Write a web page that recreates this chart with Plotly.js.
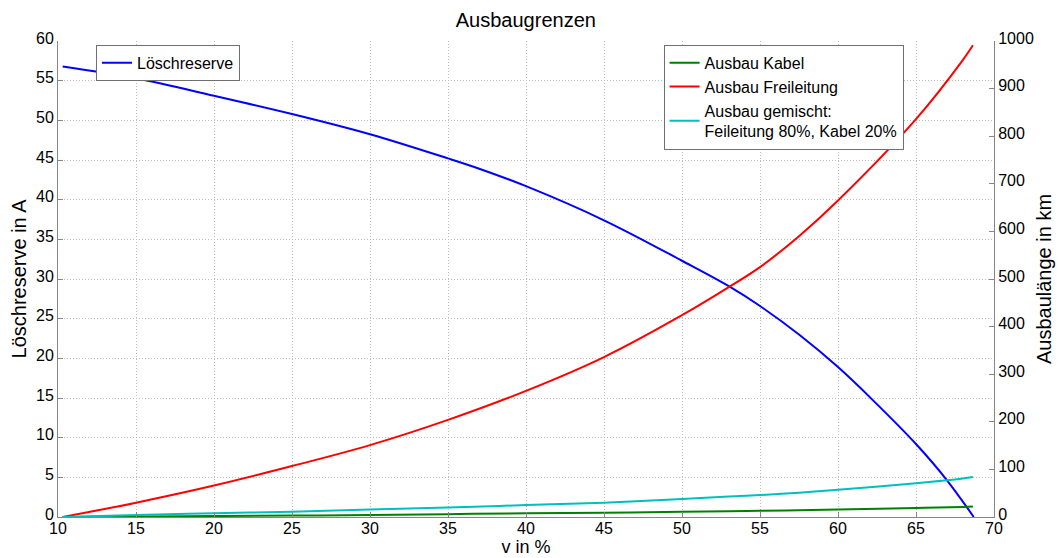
<!DOCTYPE html>
<html>
<head>
<meta charset="utf-8">
<script src="https://cdn.plot.ly/plotly-3.0.1.min.js"></script>
<style>html,body{margin:0;padding:0;background:#fff;}#chart{width:1058px;height:558px;}</style>
</head>
<body>
<div id="chart"></div>
<script>
// Löschreserve (left axis, A)
const xLoesch = [10.3, 15, 20, 25, 30, 35, 37, 40, 45, 50, 53, 55, 57.5, 60, 62.2, 65, 67, 68.7];
const loeschreserve = [56.8, 55.3, 53.1, 50.8, 48.25, 45.2, 43.9, 41.7, 37.4, 32.3, 29.1, 26.6, 23.0, 18.9, 14.8, 9.2, 4.6, 0];

// Ausbau (right axis, km)
const xAusbau = [10.3, 15, 20, 25, 30, 35, 40, 45, 50, 53, 55, 57.5, 60, 65, 68, 68.65];
const ausbauKabel = [0, 1, 2, 3, 4, 6, 8, 9, 11, 12, 13, 14, 16, 19, 21, 22];
const ausbauFreileitung = [0, 30, 66, 107, 151, 204, 265, 336, 424, 483, 525, 590, 665, 836, 960, 991];
const ausbauGemischt = [0, 4, 8, 11, 16, 20, 25, 30, 38, 43, 46, 51, 57, 71, 81, 84];

const names = {
  loesch: 'Löschreserve',
  kabel: 'Ausbau Kabel',
  frei: 'Ausbau Freileitung',
  gemischt: 'Ausbau gemischt:<br>Feileitung 80%, Kabel 20%'
};

const FONT = 'Liberation Sans, Arial, Helvetica, sans-serif';
const AX = '#868686';
const GRID = '#bcbcbc';
const SM = 1.0;

const traces = [
  {x: xLoesch, y: loeschreserve, name: names.loesch, type: 'scatter', mode: 'lines',
   line: {color: '#0000ff', width: 2, shape: 'spline', smoothing: SM}, yaxis: 'y', legend: 'legend'},
  {x: xAusbau, y: ausbauKabel, name: names.kabel, type: 'scatter', mode: 'lines',
   line: {color: '#008000', width: 2, shape: 'spline', smoothing: SM}, yaxis: 'y2', legend: 'legend2'},
  {x: xAusbau, y: ausbauFreileitung, name: names.frei, type: 'scatter', mode: 'lines',
   line: {color: '#ff0000', width: 2, shape: 'spline', smoothing: SM}, yaxis: 'y2', legend: 'legend2'},
  {x: xAusbau, y: ausbauGemischt, name: names.gemischt, type: 'scatter', mode: 'lines',
   line: {color: '#00bfbf', width: 2, shape: 'spline', smoothing: SM}, yaxis: 'y2', legend: 'legend2'}
];

const layout = {
  width: 1058, height: 558,
  margin: {l: 58, r: 64, t: 41, b: 41, pad: 0},
  paper_bgcolor: '#ffffff', plot_bgcolor: '#ffffff',
  font: {family: FONT, size: 16, color: '#000'},
  title: {text: 'Ausbaugrenzen', font: {size: 20, family: FONT, color: '#000'}, x: 0.497, xanchor: 'center', y: 0.964, yanchor: 'middle'},
  xaxis: {
    range: [10, 70], dtick: 5, tick0: 10, ticks: 'inside', ticklen: 5, tickcolor: AX,
    showline: true, linecolor: AX, linewidth: 1, showgrid: true, gridcolor: GRID, griddash: '1px,2px', gridwidth: 1,
    zeroline: false, tickfont: {size: 16, family: FONT}, automargin: false, ticklabelstandoff: -3,
    title: {text: 'v in %', font: {size: 18, family: FONT}, standoff: 4}
  },
  yaxis: {
    range: [0, 60], dtick: 5, tick0: 0, ticks: 'inside', ticklen: 5, tickcolor: AX,
    showline: true, linecolor: AX, linewidth: 1, showgrid: true, gridcolor: GRID, griddash: '1px,2px', gridwidth: 1,
    zeroline: false, tickfont: {size: 16, family: FONT}, automargin: false, ticklabelshift: -3,
    title: {text: 'Löschreserve in A', font: {size: 20, family: FONT}, standoff: 4}
  },
  yaxis2: {
    overlaying: 'y', side: 'right', range: [0, 1000], dtick: 100, tick0: 0, ticks: 'inside', ticklen: 5, tickcolor: AX,
    showline: true, linecolor: AX, linewidth: 1, showgrid: false, zeroline: false,
    tickfont: {size: 16, family: FONT}, automargin: false, ticklabelshift: -3,
    title: {text: 'Ausbaulänge in km', font: {size: 20, family: FONT}, standoff: 4}
  },
  legend: {
    x: 0.0406, y: 0.992, xanchor: 'left', yanchor: 'top',
    bgcolor: '#ffffff', bordercolor: '#707070', borderwidth: 1,
    font: {size: 16, family: FONT}, tracegroupgap: 0, itemwidth: 30
  },
  legend2: {
    x: 0.647, y: 0.992, xanchor: 'left', yanchor: 'top',
    bgcolor: '#ffffff', bordercolor: '#707070', borderwidth: 1,
    font: {size: 16, family: FONT}, tracegroupgap: 0, itemwidth: 30
  },
  showlegend: true
};

Plotly.newPlot('chart', traces, layout, {displayModeBar: false, staticPlot: true});
</script>
</body>
</html>
